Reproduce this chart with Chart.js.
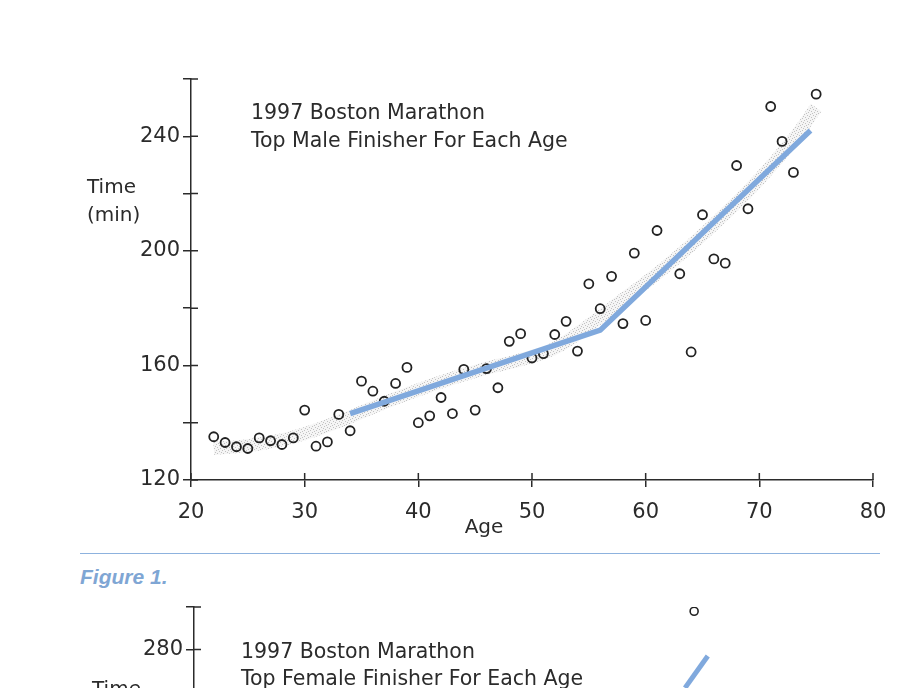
<!DOCTYPE html>
<html>
<head>
<meta charset="utf-8">
<script src="https://cdn.jsdelivr.net/npm/chart.js@4.4.0/dist/chart.umd.min.js"></script>
<style>
  html, body { margin: 0; padding: 0; background: #fff; width: 917px; height: 688px; overflow: hidden; }
  #male { position: absolute; left: 0; top: 0; }
  #female { position: absolute; left: 0; top: 560px; }
  #rule { position: absolute; left: 80px; top: 553px; width: 800px; height: 1px; background: #8db2de; }
  #caption { position: absolute; left: 80px; top: 565px; font: italic bold 21px "Liberation Sans"; color: #7fa6d4; }
</style>
</head>
<body>
<canvas id="male" width="917" height="545"></canvas>
<div id="rule"></div>
<div id="caption">Figure 1.</div>
<canvas id="female" width="917" height="495"></canvas>
<script>
// top male finisher for each age (1997)
const maleAges = [22, 23, 24, 25, 26, 27, 28, 29, 30, 31, 32, 33, 34, 35, 36, 37, 38, 39, 40, 41,
  42, 43, 44, 45, 46, 47, 48, 49, 50, 51, 52, 53, 54, 55, 56, 57, 58, 59, 60, 61,
  63, 64, 65, 66, 67, 68, 69, 71, 72, 73, 75]
const maleTimes = [135.1, 133.1, 131.6, 131.0, 134.7, 133.7, 132.4, 134.7, 144.4, 131.8, 133.3, 142.9, 137.2, 154.5, 151.0, 147.5, 153.7, 159.3, 140.0, 142.4,
  148.8, 143.2, 158.6, 144.4, 158.9, 152.2, 168.4, 171.1, 162.6, 164.1, 170.8, 175.4, 165.0, 188.5, 179.8, 191.1, 174.6, 199.2, 175.7, 207.1,
  192.0, 164.7, 212.6, 197.2, 195.7, 229.8, 214.7, 250.4, 238.2, 227.4, 254.7]

// piecewise fit (blue) and smoothed band (grey)
const fitAges = [34, 56, 74.5]
const fitTimes = [143.2, 172.3, 242]
const bandAges = [22, 25, 28, 31, 34, 37, 40, 43, 46, 49, 52, 55, 58, 61, 64, 67, 70, 73, 75]
const bandTimes = [131, 132, 134, 137.5, 142, 147, 151.5, 155.5, 159, 162, 166, 174, 183, 192, 202, 213, 225, 239, 250]

// second figure, only its top edge is on the page
const femaleAges = [64]
const femaleTimes = [298]
const femaleFitAges = [63.2, 65.2]
const femaleFitTimes = [262, 277]

const ink = '#2b2b2b'
const blue = '#80a9dd'

function pairs(xs, ys) {
  return xs.map((x, i) => ({x: x, y: ys[i]}))
}

function stipple() {
  let c = document.createElement('canvas')
  c.width = 6; c.height = 6
  let g = c.getContext('2d')
  g.fillStyle = 'rgba(200,200,200,0.18)'
  g.fillRect(0, 0, 6, 6)
  g.fillStyle = '#c2c2c2'
  let dots = [[0,0],[3,1],[1,3],[4,4],[5,2],[2,5]]
  for(let d of dots) g.fillRect(d[0], d[1], 1, 1)
  return g.createPattern(c, 'repeat')
}

// ticks cross the axis, chart.js only draws the outer half
const crossTicks = {
  id: 'crossTicks',
  afterDraw(chart) {
    let ctx = chart.ctx
    let x = chart.scales.x, y = chart.scales.y
    ctx.save()
    ctx.strokeStyle = ink
    ctx.lineWidth = 1.5
    ctx.beginPath()
    for(let t of x.ticks) {
      let px = x.getPixelForValue(t.value)
      ctx.moveTo(px, x.top); ctx.lineTo(px, x.top - 7)
    }
    for(let t of y.ticks) {
      let py = y.getPixelForValue(t.value)
      ctx.moveTo(y.right, py); ctx.lineTo(y.right + 7, py)
    }
    ctx.stroke()
    ctx.restore()
  }
}

function labels(texts) {
  return {
    id: 'labels',
    afterDraw(chart) {
      let ctx = chart.ctx
      ctx.save()
      ctx.fillStyle = ink
      ctx.textBaseline = 'middle'
      for(let t of texts) {
        ctx.font = t.size + 'px "DejaVu Sans"'
        ctx.textAlign = t.align || 'left'
        ctx.fillText(t.text, t.x, t.y)
      }
      ctx.restore()
    }
  }
}

function axes(yMin, yMax, yWidth, xHeight) {
  return {
    x: {
      type: 'linear', min: 20, max: 80,
      afterFit(s) { s.height = xHeight },
      border: {display: true, color: ink, width: 1.5},
      grid: {drawOnChartArea: false, drawTicks: true, tickLength: 7, color: ink, lineWidth: 1.5},
      ticks: {stepSize: 10, padding: 13, color: ink, font: {family: 'DejaVu Sans', size: 21}}
    },
    y: {
      type: 'linear', min: yMin, max: yMax,
      afterFit(s) { s.width = yWidth },
      border: {display: true, color: ink, width: 1.5},
      grid: {drawOnChartArea: false, drawTicks: true, tickLength: 8, color: ink, lineWidth: 1.5},
      ticks: {stepSize: 20, padding: 3, color: ink, font: {family: 'DejaVu Sans', size: 21},
        callback: v => (v % 40 === 0 ? v : '')}
    }
  }
}

const base = {
  responsive: false,
  animation: false,
  plugins: {legend: {display: false}, tooltip: {enabled: false}}
}

new Chart(document.getElementById('male').getContext('2d'), {
  type: 'scatter',
  data: {
    datasets: [{
      label: 'Fit',
      type: 'line',
      data: pairs(fitAges, fitTimes),
      borderColor: blue,
      borderWidth: 5.5,
      pointRadius: 0,
      order: 0
    },
    {
      label: 'Top male',
      data: pairs(maleAges, maleTimes),
      pointStyle: 'circle',
      pointRadius: 4.5,
      borderWidth: 1.8,
      borderColor: '#222',
      backgroundColor: 'rgba(0,0,0,0)',
      order: 1
    },
    {
      label: 'Smooth',
      type: 'line',
      data: pairs(bandAges, bandTimes),
      borderColor: stipple(),
      borderWidth: 13,
      tension: 0.4,
      pointRadius: 0,
      order: 2
    }]
  },
  options: Object.assign({}, base, {
    layout: {padding: {top: 79, right: 44, left: 0, bottom: 0}},
    scales: axes(120, 260, 191, 65)
  }),
  plugins: [crossTicks, labels([
    {text: '1997 Boston Marathon', x: 251, y: 114, size: 20.5},
    {text: 'Top Male Finisher For Each Age', x: 251, y: 142, size: 20.5},
    {text: 'Time', x: 87, y: 188, size: 20},
    {text: '(min)', x: 87, y: 216, size: 20},
    {text: 'Age', x: 484, y: 528, size: 20, align: 'center'}
  ])]
})

new Chart(document.getElementById('female').getContext('2d'), {
  type: 'scatter',
  data: {
    datasets: [{
      label: 'Fit',
      type: 'line',
      data: pairs(femaleFitAges, femaleFitTimes),
      borderColor: blue,
      borderWidth: 5,
      pointRadius: 0,
      order: 0
    },
    {
      label: 'Top female',
      data: pairs(femaleAges, femaleTimes),
      pointStyle: 'circle',
      pointRadius: 4,
      borderWidth: 1.6,
      borderColor: '#222',
      backgroundColor: 'rgba(0,0,0,0)',
      order: 1
    }]
  },
  options: Object.assign({}, base, {
    layout: {padding: {top: 47, right: 41, left: 0, bottom: 0}},
    scales: axes(120, 300, 194, 65)
  }),
  plugins: [crossTicks, labels([
    {text: '1997 Boston Marathon', x: 241, y: 93, size: 20.5},
    {text: 'Top Female Finisher For Each Age', x: 241, y: 120, size: 20.5},
    {text: 'Time', x: 92, y: 130, size: 20}
  ])]
})
</script>
</body>
</html>
